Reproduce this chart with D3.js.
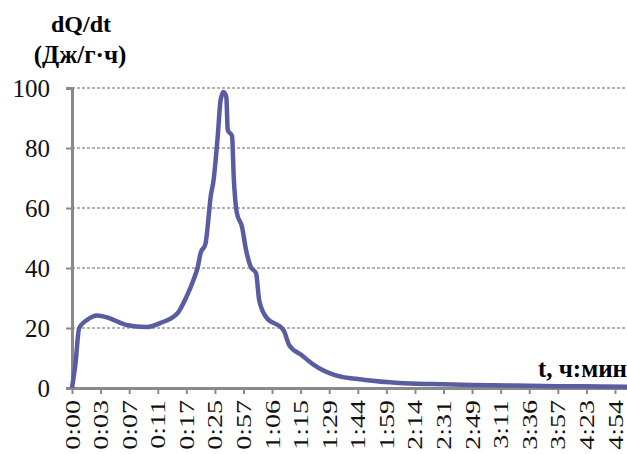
<!DOCTYPE html>
<html>
<head>
<meta charset="utf-8">
<script src="https://cdn.jsdelivr.net/npm/d3@7"></script>
<style>
  body { margin: 0; background: #fff; }
  svg { display: block; font-family: "Liberation Serif", "Times New Roman", serif; }
</style>
</head>
<body>
<svg id="chart" width="627" height="454"></svg>
<script>
// =========================
// data
// =========================
const timeLabels = ["0:00","0:03","0:07","0:11","0:17","0:25","0:57","1:06","1:15","1:29",
  "1:44","1:59","2:14","2:31","2:49","3:11","3:36","3:57","4:23","4:54"];

// position along the category axis (label index units) and heat flow value
const seriesPos = [0, 0.12, 0.25, 0.5, 0.88, 1.3, 1.9, 2.6, 3.1, 3.7, 4.0, 4.25, 4.4, 4.5, 4.67,
  4.78, 4.85, 4.95, 5.1, 5.2, 5.3, 5.4, 5.45, 5.6, 5.66, 5.77, 5.95, 6.09, 6.26, 6.44, 6.55,
  6.79, 7.4, 7.6, 8.03, 8.46, 9.2, 10.26, 11.46, 12.6, 14, 15.5, 17, 18.5, 19.6];
const seriesVal = [0, 8, 20, 22.5, 24.2, 23.3, 21, 20.3, 21.7, 25, 30.3, 36, 40.3, 45, 48,
  57, 63.7, 69, 84, 96, 98.7, 97, 86, 84, 70.3, 58.3, 53.7, 46, 40.3, 38.3, 29.3,
  23.7, 19.3, 14.3, 11, 7.7, 4.3, 2.7, 1.7, 1.3, 1.0, 0.8, 0.6, 0.5, 0.4];

const yTicks = [0, 20, 40, 60, 80, 100];

// =========================
// layout
// =========================
const svg = d3.select("#chart");
const margin = { left: 72, right: 0, top: 88, bottom: 66 };
const W = 627, H = 454;

const x = d3.scaleLinear().domain([0, 19.42]).range([margin.left, W - margin.right]);
const y = d3.scaleLinear().domain([0, 100]).range([H - margin.bottom, margin.top]);

const axisColor = "#8a8a8a";

// gridlines
svg.append("g")
  .selectAll("line")
  .data(yTicks.filter(d => d > 0))
  .join("line")
  .attr("x1", margin.left).attr("x2", W)
  .attr("y1", d => y(d)).attr("y2", d => y(d))
  .attr("stroke", "#9a9a9a")
  .attr("stroke-width", 1.3)
  .attr("stroke-dasharray", "3,2");

// y axis
const yAxis = svg.append("g")
  .attr("transform", `translate(${margin.left},0)`)
  .call(d3.axisLeft(y).tickValues(yTicks).tickSize(6).tickPadding(16));
yAxis.select(".domain").attr("stroke", axisColor).attr("stroke-width", 3);
yAxis.selectAll(".tick line").attr("stroke", axisColor).attr("stroke-width", 2);
yAxis.selectAll("text")
  .attr("font-size", 25)
  .attr("fill", "#111")
  .attr("font-family", "Liberation Serif, serif");

// x axis
const xAxis = svg.append("g")
  .attr("transform", `translate(0,${y(0)})`)
  .call(d3.axisBottom(x)
    .tickValues(d3.range(timeLabels.length))
    .tickFormat(i => timeLabels[i])
    .tickSize(6)
    .tickSizeOuter(0));
xAxis.select(".domain").attr("stroke", axisColor).attr("stroke-width", 3);
xAxis.selectAll(".tick line").attr("stroke", axisColor).attr("stroke-width", 2);
xAxis.selectAll("text")
  .attr("font-size", 20)
  .attr("fill", "#111")
  .attr("font-family", "Liberation Serif, serif")
  .attr("text-anchor", "end")
  .attr("dy", "0.35em")
  .attr("transform", "translate(0,12) rotate(-90) scale(1.4,1)")
  .attr("x", 0).attr("y", 0);

// =========================
// line
// =========================
const pts = seriesPos.map((p, i) => [p, seriesVal[i]]);
const line = d3.line()
  .x(d => x(d[0]))
  .y(d => y(d[1]))
  .curve(d3.curveMonotoneX);

svg.append("path")
  .datum(pts)
  .attr("d", line)
  .attr("fill", "none")
  .attr("stroke", "#5a5ca2")
  .attr("stroke-width", 4.5)
  .attr("stroke-linejoin", "round");

// =========================
// titles
// =========================
svg.append("text")
  .attr("x", 81).attr("y", 32)
  .attr("text-anchor", "middle")
  .attr("font-size", 24).attr("font-weight", "bold")
  .text("dQ/dt");
svg.append("text")
  .attr("x", 80).attr("y", 63)
  .attr("text-anchor", "middle")
  .attr("font-size", 25).attr("font-weight", "bold")
  .text("(Дж/г·ч)");
svg.append("text")
  .attr("x", 627).attr("y", 377)
  .attr("text-anchor", "end")
  .attr("font-size", 25).attr("font-weight", "bold")
  .text("t, ч:мин");
</script>
</body>
</html>
